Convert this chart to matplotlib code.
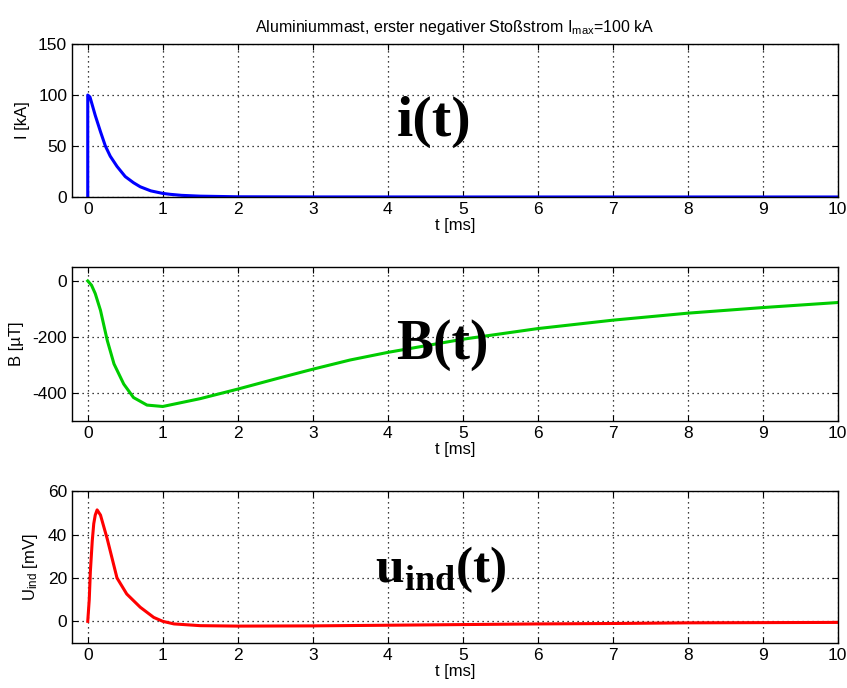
import matplotlib
matplotlib.use("Agg")
import matplotlib.pyplot as plt

plt.rcParams['font.family'] = ['Liberation Sans', 'DejaVu Sans']
plt.rcParams['mathtext.fontset'] = 'custom'
plt.rcParams['mathtext.rm'] = 'Liberation Sans'
plt.rcParams['mathtext.it'] = 'Liberation Sans:italic'
plt.rcParams['mathtext.bf'] = 'Liberation Serif:bold'
plt.rcParams['axes.unicode_minus'] = False

# current i(t) [kA]
t_i = [0, 0, 0.03, 0.1, 0.17, 0.235, 0.3, 0.39, 0.5, 0.61, 0.7, 0.84,
       1.0, 1.1, 1.25, 1.5, 2.0, 3.0, 5.0, 10.0]
i_vals = [0, 100, 98, 80, 64, 50, 40, 30, 20, 14, 10, 6,
          3.5, 2.6, 1.6, 0.8, 0.2, 0.05, 0, 0]

# magnetic field B(t) [uT]
t_b = [0, 0.05, 0.1, 0.17, 0.26, 0.35, 0.48, 0.61, 0.79, 1.0, 1.5, 2.0,
       2.5, 3.0, 3.5, 4.0, 5.0, 6.0, 7.0, 8.0, 9.0, 10.0]
b_vals = [0, -15, -45, -105, -212, -296, -368, -416, -443, -448, -420, -386,
          -350, -315, -282, -255, -208, -170, -140, -115, -95, -77]

# induced voltage u_ind(t) [mV]
t_u = [0, 0.02, 0.035, 0.06, 0.08, 0.1, 0.125, 0.17, 0.26, 0.39, 0.52, 0.7,
       0.88, 1.0, 1.15, 1.5, 2.0, 3.0, 4.0, 5.0, 6.0, 7.0, 8.0, 9.0, 10.0]
u_vals = [0, 10, 23, 37, 45, 49, 51.4, 49, 38, 20, 12.6, 6.5,
          1.8, 0, -1.2, -2.0, -2.2, -2.1, -1.8, -1.5, -1.2, -1.0, -0.7, -0.6, -0.5]

xticks = list(range(0, 11))

fig = plt.figure(figsize=(8.47, 6.88), dpi=100)
left, width = 0.085, 0.904
ax1 = fig.add_axes([left, 0.7137, width, 0.2223])
ax2 = fig.add_axes([left, 0.388, width, 0.224])
ax3 = fig.add_axes([left, 0.0654, width, 0.2206])


def style(ax, ylim, yticks, ylabel):
    ax.set_xlim(-0.21, 10)
    ax.set_ylim(*ylim)
    ax.set_xticks(xticks)
    ax.set_yticks(yticks)
    ax.grid(True, linestyle=(0, (1, 3)), color='black', linewidth=0.9)
    ax.tick_params(direction='in', top=True, right=True, labelsize=12.5, length=4)
    ax.set_xlabel("t [ms]", fontsize=12, labelpad=1)
    ax.set_ylabel(ylabel, fontsize=12, labelpad=6)
    for s in ax.spines.values():
        s.set_linewidth(1.0)


ax1.plot(t_i, i_vals, color='#0000ff', linewidth=2.2)
style(ax1, (0, 150), [0, 50, 100, 150], "I [kA]")
ax1.set_title(r"Aluminiummast, erster negativer Stoßstrom I$_{\mathrm{max}}$=100 kA",
              fontsize=11.5, pad=9)
ax1.text(434, 688 - 122, "i(t)", transform=None, fontsize=42, fontweight='bold',
         family='Liberation Serif', ha='center', va='center')

ax2.plot(t_b, b_vals, color='#00cc00', linewidth=2.2)
style(ax2, (-500, 50), [-400, -200, 0], "B [µT]")
ax2.text(442, 688 - 345, "B(t)", transform=None, fontsize=40, fontweight='bold',
         family='Liberation Serif', ha='center', va='center')

ax3.plot(t_u, u_vals, color='#ff0000', linewidth=2.2)
style(ax3, (-10, 60), [0, 20, 40, 60], r"U$_{\mathrm{ind}}$ [mV]")
ax3.text(441, 688 - 570, r"$\mathbf{u}_{\mathbf{ind}}\mathbf{(t)}$", transform=None,
         fontsize=37, ha='center', va='center')

fig.savefig("out.png", dpi=100)
